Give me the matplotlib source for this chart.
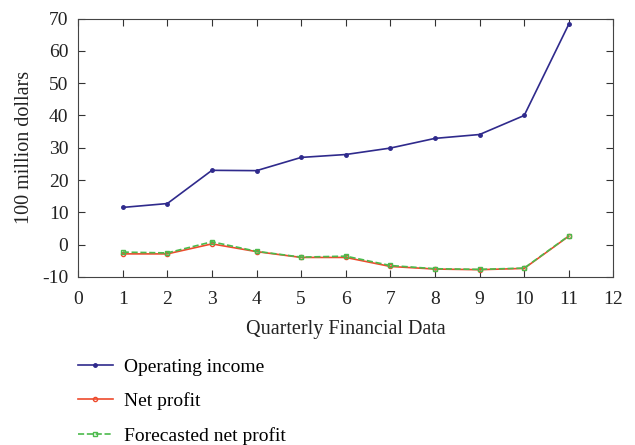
import matplotlib.pyplot as plt

plt.rcParams['font.family'] = 'Liberation Serif'
plt.rcParams['axes.unicode_minus'] = False

# Dados trimestrais (100 million dollars)
quarters = [1, 2, 3, 4, 5, 6, 7, 8, 9, 10, 11]
operating_income = [11.5, 12.7, 23.0, 22.9, 27.0, 27.9, 29.9, 32.9, 34.1, 40.0, 68.3]
net_profit = [-2.9, -2.9, 0.2, -2.2, -4.0, -4.0, -6.8, -7.6, -7.8, -7.4, 2.6]
forecast_profit = [-2.35, -2.6, 0.85, -2.1, -3.9, -3.6, -6.5, -7.5, -7.7, -7.3, 2.7]

fig = plt.figure(figsize=(6.35, 4.45), dpi=100)
ax = fig.add_axes([0.123, 0.378, 0.843, 0.58])

ax.plot(quarters, operating_income, color='#2f2a8c', marker='o', markersize=2.5,
        linewidth=1.2, label='Operating income')
ax.plot(quarters, net_profit, color='#ee4a2c', marker='o', markersize=3,
        markerfacecolor='none', linewidth=1.2, label='Net profit')
ax.plot(quarters, forecast_profit, color='#4cba4c', marker='s', markersize=3,
        markerfacecolor='none', linestyle='--', linewidth=1.2,
        label='Forecasted net profit')

ax.set_xlim(0, 12)
ax.set_ylim(-10, 70)
ax.set_xticks(range(0, 13))
ax.set_yticks(range(-10, 71, 10))
ax.tick_params(direction='in', top=True, right=True, labelsize=14, colors='#333333',
               labelcolor='#222222', length=5)
ax.tick_params(axis='x', pad=10)
ax.tick_params(axis='y', pad=7)
for s in ax.spines.values():
    s.set_color('#444444')
ax.set_xlabel('Quarterly Financial Data', fontsize=14.5, color='#222222', labelpad=9)
ax.set_ylabel('100 million dollars', fontsize=14.5, color='#222222', labelpad=6)

ax.legend(loc='upper left', bbox_to_anchor=(-0.015, -0.285), frameon=False,
          fontsize=14, handlelength=1.8, handletextpad=0.55, labelspacing=0.85,
          borderaxespad=0)

plt.savefig('out.png', dpi=100)
